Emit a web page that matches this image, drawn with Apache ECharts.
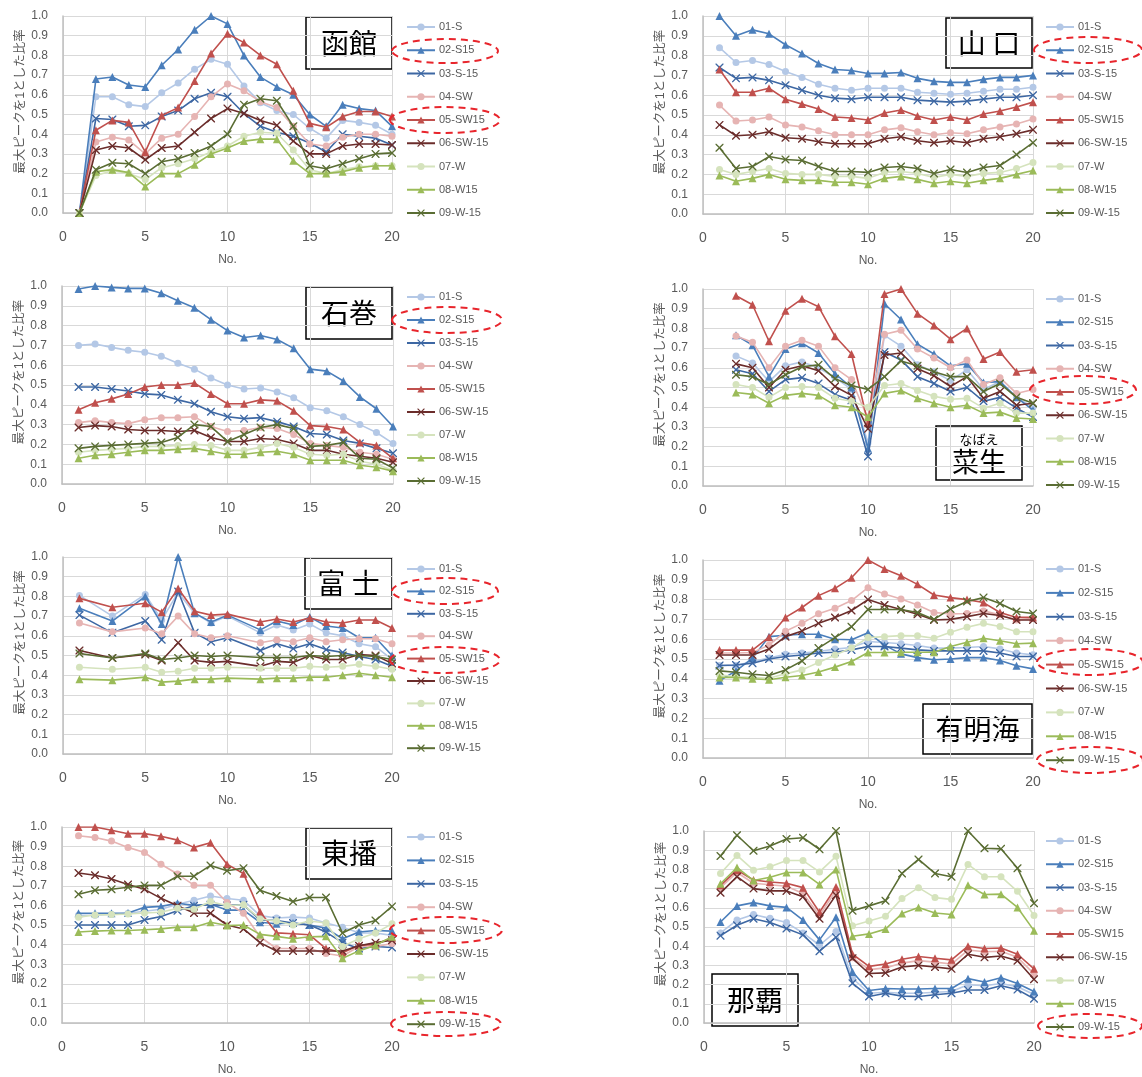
<!DOCTYPE html>
<html><head><meta charset="utf-8">
<script src="https://cdn.jsdelivr.net/npm/echarts@6/dist/echarts.min.js"></script>
<style>html,body{margin:0;padding:0;background:#fff}#c{width:1142px;height:1077px}</style>
</head><body><div id="c"></div>
<script>
// ---------------- DATA ----------------
const seriesNames = ['01-S','02-S15','03-S-15','04-SW','05-SW15','06-SW-15','07-W','08-W15','09-W-15'];
const xNo = [1,2,3,4,5,6,7,8,9,10,11,12,13,14,15,16,17,18,19,20];
const yAxisTitle = '最大ピークを1とした比率';
const xAxisTitle = 'No.';
const placeNames = ['函館','山 口','石巻','菜生','富 士','有明海','東播','那覇'];
const nabaeRuby = 'なばえ';

const hakodate = [
  [0,0.59,0.59,0.55,0.54,0.61,0.66,0.73,0.78,0.755,0.645,0.56,0.52,0.50,0.43,0.38,0.47,0.46,0.445,0.40],
  [0,0.68,0.69,0.65,0.64,0.75,0.83,0.93,1.0,0.96,0.80,0.69,0.64,0.60,0.50,0.44,0.55,0.53,0.52,0.44],
  [0,0.48,0.475,0.44,0.445,0.49,0.52,0.58,0.61,0.59,0.505,0.44,0.41,0.39,0.355,0.31,0.40,0.39,0.38,0.345],
  [0,0.36,0.385,0.37,0.30,0.38,0.40,0.49,0.59,0.655,0.62,0.565,0.535,0.44,0.35,0.34,0.385,0.40,0.40,0.39],
  [0,0.42,0.47,0.46,0.31,0.495,0.535,0.67,0.81,0.91,0.865,0.80,0.755,0.62,0.455,0.435,0.49,0.515,0.515,0.49],
  [0,0.32,0.34,0.33,0.27,0.33,0.34,0.41,0.48,0.53,0.505,0.47,0.445,0.365,0.30,0.30,0.34,0.35,0.35,0.345],
  [0,0.19,0.215,0.20,0.17,0.23,0.25,0.275,0.31,0.34,0.39,0.41,0.405,0.32,0.22,0.20,0.22,0.235,0.24,0.24],
  [0,0.21,0.22,0.205,0.135,0.20,0.20,0.245,0.30,0.33,0.365,0.375,0.375,0.265,0.20,0.20,0.21,0.23,0.24,0.24],
  [0,0.22,0.255,0.25,0.20,0.26,0.275,0.305,0.34,0.40,0.55,0.58,0.57,0.44,0.24,0.225,0.25,0.275,0.30,0.305]
];
const yamaguchi = [
  [0.84,0.765,0.775,0.755,0.72,0.69,0.655,0.635,0.625,0.635,0.635,0.635,0.615,0.61,0.605,0.61,0.62,0.63,0.63,0.64],
  [1.0,0.90,0.93,0.91,0.855,0.81,0.76,0.73,0.725,0.71,0.71,0.715,0.685,0.67,0.665,0.665,0.68,0.69,0.69,0.70],
  [0.74,0.685,0.69,0.675,0.65,0.625,0.60,0.585,0.58,0.59,0.59,0.59,0.575,0.57,0.565,0.57,0.58,0.59,0.59,0.60],
  [0.55,0.47,0.475,0.49,0.45,0.44,0.42,0.40,0.40,0.40,0.425,0.435,0.415,0.40,0.41,0.405,0.425,0.44,0.455,0.48],
  [0.73,0.615,0.615,0.635,0.58,0.555,0.53,0.49,0.485,0.475,0.51,0.525,0.495,0.475,0.49,0.475,0.505,0.52,0.54,0.565],
  [0.45,0.395,0.40,0.415,0.385,0.38,0.365,0.355,0.355,0.355,0.38,0.39,0.37,0.36,0.37,0.36,0.38,0.39,0.405,0.425],
  [0.225,0.20,0.215,0.23,0.205,0.20,0.20,0.19,0.19,0.18,0.21,0.215,0.205,0.185,0.20,0.19,0.205,0.21,0.23,0.26],
  [0.195,0.165,0.18,0.20,0.175,0.17,0.17,0.16,0.16,0.15,0.18,0.19,0.175,0.155,0.165,0.155,0.17,0.18,0.20,0.22],
  [0.335,0.23,0.24,0.29,0.275,0.27,0.24,0.215,0.215,0.21,0.235,0.24,0.23,0.205,0.225,0.21,0.235,0.245,0.30,0.36]
];
const ishinomaki = [
  [0.70,0.707,0.69,0.675,0.665,0.645,0.61,0.58,0.535,0.50,0.48,0.485,0.465,0.435,0.385,0.37,0.34,0.30,0.26,0.205],
  [0.985,1.0,0.993,0.988,0.988,0.963,0.925,0.89,0.83,0.775,0.74,0.75,0.73,0.685,0.58,0.57,0.52,0.44,0.38,0.29],
  [0.49,0.49,0.48,0.47,0.455,0.45,0.425,0.405,0.365,0.34,0.33,0.335,0.315,0.29,0.255,0.25,0.22,0.205,0.18,0.155],
  [0.31,0.32,0.31,0.305,0.325,0.335,0.335,0.34,0.29,0.265,0.27,0.285,0.28,0.25,0.205,0.195,0.185,0.16,0.15,0.125],
  [0.375,0.41,0.43,0.455,0.49,0.50,0.50,0.51,0.455,0.405,0.405,0.425,0.42,0.37,0.295,0.29,0.275,0.21,0.195,0.13],
  [0.285,0.295,0.29,0.275,0.27,0.27,0.265,0.27,0.235,0.215,0.215,0.23,0.225,0.205,0.17,0.17,0.15,0.14,0.13,0.11],
  [0.16,0.17,0.175,0.18,0.19,0.19,0.195,0.20,0.195,0.17,0.17,0.185,0.205,0.185,0.15,0.145,0.15,0.115,0.10,0.07],
  [0.13,0.145,0.15,0.16,0.17,0.17,0.175,0.18,0.165,0.15,0.15,0.16,0.165,0.15,0.12,0.12,0.12,0.095,0.085,0.065],
  [0.18,0.19,0.195,0.20,0.205,0.21,0.235,0.30,0.29,0.215,0.25,0.285,0.30,0.28,0.19,0.195,0.21,0.13,0.125,0.08]
];
const nabae = [
  [null,0.66,0.625,0.53,0.61,0.63,0.60,0.55,0.49,0.22,0.765,0.71,0.615,0.58,0.535,0.59,0.49,0.53,0.45,0.40],
  [null,0.765,0.715,0.555,0.695,0.725,0.675,0.57,0.50,0.19,0.925,0.845,0.72,0.67,0.61,0.62,0.525,0.53,0.45,0.385],
  [null,0.59,0.57,0.48,0.54,0.55,0.52,0.465,0.435,0.15,0.68,0.64,0.555,0.52,0.48,0.50,0.43,0.45,0.395,0.35],
  [null,0.762,0.73,0.60,0.71,0.74,0.71,0.60,0.54,0.34,0.77,0.79,0.695,0.65,0.60,0.64,0.515,0.55,0.47,0.49],
  [null,0.966,0.92,0.735,0.89,0.95,0.91,0.76,0.67,0.32,0.975,1.0,0.875,0.815,0.745,0.80,0.645,0.68,0.58,0.59],
  [null,0.62,0.60,0.50,0.59,0.61,0.585,0.505,0.46,0.29,0.665,0.675,0.595,0.56,0.505,0.555,0.445,0.48,0.41,0.42],
  [null,0.515,0.50,0.45,0.50,0.505,0.50,0.445,0.43,0.40,0.51,0.52,0.485,0.455,0.44,0.445,0.395,0.42,0.37,0.37],
  [null,0.475,0.465,0.42,0.46,0.47,0.46,0.41,0.40,0.35,0.47,0.485,0.445,0.42,0.40,0.41,0.37,0.375,0.345,0.34],
  [null,0.565,0.555,0.515,0.565,0.605,0.615,0.545,0.51,0.49,0.555,0.635,0.61,0.58,0.555,0.555,0.48,0.52,0.45,0.42]
];
const fuji = [
  [0.805,null,0.70,null,0.81,0.68,0.82,0.715,0.665,0.70,null,0.615,0.655,0.63,0.66,0.615,0.60,0.56,0.545,0.48],
  [0.74,null,0.675,null,0.80,0.66,1.0,0.715,0.67,0.705,null,0.63,0.675,0.655,0.695,0.65,0.64,0.59,0.59,0.50],
  [0.705,null,0.615,null,0.675,0.58,0.825,0.615,0.57,0.59,null,0.525,0.56,0.535,0.56,0.53,0.515,0.495,0.48,0.445],
  [0.665,null,0.62,null,0.64,0.61,0.70,0.61,0.59,0.60,null,0.565,0.58,0.57,0.59,0.57,0.58,0.585,0.585,0.56],
  [0.79,null,0.745,null,0.765,0.72,0.84,0.725,0.705,0.71,null,0.67,0.685,0.67,0.69,0.67,0.665,0.68,0.68,0.64],
  [0.525,null,0.487,null,0.505,0.475,0.565,0.475,0.465,0.47,null,0.445,0.47,0.465,0.50,0.48,0.48,0.505,0.50,0.46],
  [0.44,null,0.43,null,0.44,0.415,0.42,0.435,0.435,0.44,null,0.435,0.435,0.435,0.445,0.44,0.445,0.455,0.445,0.43],
  [0.38,null,0.375,null,0.39,0.365,0.37,0.38,0.38,0.385,null,0.38,0.385,0.385,0.39,0.39,0.40,0.41,0.40,0.39],
  [0.51,null,0.487,null,0.51,0.48,0.487,0.50,0.495,0.50,null,0.49,0.49,0.49,0.50,0.495,0.50,0.50,0.495,0.48]
];
const ariake = [
  [0.467,0.467,0.487,0.505,0.524,0.53,0.538,0.55,0.558,0.588,0.583,0.577,0.568,0.555,0.555,0.558,0.563,0.551,0.53,0.521],
  [0.39,0.44,0.505,0.613,0.62,0.625,0.625,0.60,0.597,0.633,0.57,0.526,0.507,0.496,0.50,0.507,0.507,0.492,0.466,0.45],
  [0.467,0.47,0.479,0.50,0.513,0.52,0.53,0.534,0.546,0.563,0.563,0.555,0.546,0.541,0.541,0.541,0.541,0.53,0.513,0.513],
  [0.53,0.53,0.533,0.57,0.64,0.68,0.728,0.756,0.795,0.86,0.828,0.803,0.773,0.735,0.728,0.73,0.743,0.723,0.697,0.705],
  [0.545,0.545,0.545,0.61,0.71,0.76,0.82,0.857,0.91,1.0,0.955,0.92,0.877,0.823,0.81,0.80,0.785,0.735,0.71,0.71],
  [0.52,0.52,0.52,0.55,0.613,0.642,0.68,0.71,0.745,0.80,0.773,0.75,0.726,0.697,0.70,0.714,0.73,0.72,0.697,0.697],
  [0.42,0.41,0.407,0.403,0.425,0.445,0.482,0.52,0.555,0.608,0.613,0.618,0.617,0.605,0.635,0.66,0.68,0.664,0.638,0.638],
  [0.407,0.407,0.40,0.395,0.408,0.417,0.434,0.459,0.487,0.533,0.533,0.534,0.534,0.534,0.563,0.585,0.605,0.592,0.577,0.58],
  [0.44,0.433,0.423,0.417,0.445,0.49,0.555,0.608,0.663,0.75,0.75,0.75,0.735,0.70,0.753,0.79,0.81,0.78,0.74,0.73]
];
const higashiharima = [
  [0.55,0.55,0.555,0.56,0.57,0.58,0.606,0.626,0.648,0.635,0.626,0.548,0.536,0.54,0.536,0.51,0.489,0.46,0.459,0.447],
  [0.56,0.56,0.56,0.561,0.59,0.595,0.611,0.60,0.606,0.576,0.576,0.514,0.506,0.51,0.50,0.484,0.43,0.464,0.472,0.469],
  [0.50,0.50,0.50,0.50,0.526,0.543,0.573,0.598,0.603,0.60,0.603,0.526,0.523,0.51,0.50,0.464,0.41,0.38,0.39,0.385],
  [0.955,0.946,0.928,0.896,0.87,0.81,0.76,0.703,0.703,0.615,0.56,0.44,0.38,0.38,0.38,0.355,0.342,0.39,0.39,0.405],
  [1.0,1.0,0.983,0.966,0.966,0.953,0.933,0.896,0.92,0.81,0.762,0.568,0.46,0.455,0.45,0.38,0.358,0.397,0.40,0.435],
  [0.765,0.754,0.735,0.707,0.682,0.636,0.598,0.561,0.56,0.50,0.48,0.41,0.367,0.367,0.367,0.367,0.367,0.394,0.41,0.422],
  [0.54,0.551,0.553,0.556,0.561,0.565,0.585,0.58,0.62,0.598,0.603,0.531,0.52,0.50,0.52,0.51,0.39,0.43,0.459,0.506],
  [0.464,0.469,0.472,0.472,0.476,0.48,0.489,0.489,0.514,0.497,0.50,0.452,0.442,0.43,0.44,0.442,0.33,0.368,0.397,0.44],
  [0.657,0.677,0.682,0.693,0.702,0.702,0.749,0.749,0.804,0.777,0.79,0.677,0.648,0.62,0.64,0.64,0.459,0.50,0.523,0.595]
];
const naha = [
  [0.469,0.536,0.565,0.545,0.523,0.469,0.405,0.477,0.233,0.155,0.16,0.155,0.155,0.16,0.164,0.199,0.194,0.206,0.189,0.148],
  [0.526,0.61,0.627,0.61,0.602,0.536,0.433,0.551,0.266,0.169,0.18,0.177,0.177,0.18,0.18,0.231,0.214,0.236,0.206,0.164],
  [0.455,0.509,0.543,0.523,0.492,0.459,0.374,0.447,0.207,0.138,0.155,0.14,0.138,0.147,0.155,0.172,0.172,0.194,0.174,0.126],
  [0.705,0.784,0.728,0.72,0.712,0.675,0.56,0.69,0.34,0.278,0.287,0.312,0.325,0.317,0.307,0.38,0.371,0.374,0.342,0.256],
  [0.717,0.796,0.745,0.734,0.728,0.705,0.577,0.708,0.358,0.295,0.307,0.332,0.346,0.337,0.329,0.40,0.388,0.391,0.358,0.282],
  [0.678,0.762,0.70,0.688,0.688,0.658,0.543,0.666,0.337,0.258,0.261,0.292,0.30,0.292,0.282,0.358,0.342,0.349,0.324,0.228],
  [0.779,0.873,0.796,0.814,0.846,0.846,0.787,0.868,0.506,0.531,0.556,0.649,0.705,0.653,0.644,0.826,0.762,0.762,0.686,0.56],
  [0.725,0.81,0.742,0.759,0.784,0.784,0.722,0.80,0.452,0.464,0.489,0.57,0.602,0.573,0.565,0.717,0.669,0.671,0.602,0.481],
  [0.87,0.978,0.897,0.922,0.958,0.965,0.905,1.0,0.585,0.61,0.637,0.779,0.852,0.779,0.762,1.0,0.91,0.907,0.806,0.624]
];
const panelData = [hakodate, yamaguchi, ishinomaki, nabae, fuji, ariake, higashiharima, naha];

// ---------------- STYLE / LAYOUT ----------------
const COLORS = ['#b4c8e6','#4a7ebb','#3d67a3','#e6b4b3','#c0504d','#6b2d2b','#d5e3bd','#9bbb59','#5a6d33'];
const XMARK = 'path://M0,0L1.2,0L5,3.8L8.8,0L10,0L10,1.2L6.2,5L10,8.8L10,10L8.8,10L5,6.2L1.2,10L0,10L0,8.8L3.8,5L0,1.2Z';
const SYMBOLS = ['circle','triangle',XMARK,'circle','triangle',XMARK,'circle','triangle',XMARK];
const SYMSIZE = [7,8,8,7,8,8,7,8,8];

const layouts = [
  {grid:[63,16,329,197],  legend:[406,20,9.25],  box:[306,17,86,52],  ell:[[445,51,53,12],[445,120,55,13]]},
  {grid:[703,16,330,198], legend:[1045,20,9.25], box:[946,18,86,50],  ell:[[1088,50,54,13]]},
  {grid:[62,286,331,198], legend:[406,290,9.0],  box:[306,287,86,52], ell:[[447,320,55,13]]},
  {grid:[703,289,330,197],legend:[1045,292,9.25],box:[936,426,86,54], ell:[[1083,390,53,14]], ruby:true},
  {grid:[63,557,329,197], legend:[406,562,8.4],  box:[305,558,87,51], ell:[[445,591,53,13],[445,660,55,13]]},
  {grid:[703,560,330,198],legend:[1045,562,9.9], box:[923,704,109,50],ell:[[1090,662,53,13],[1090,760,53,13]]},
  {grid:[62,827,330,199], legend:[406,830,9.4],  box:[306,828,86,51], ell:[[446,930,56,13],[446,1024,55,12]]},
  {grid:[704,831,330,197],legend:[1045,834,9.25],box:[712,974,86,52], ell:[[1090,1026,52,12]]}
];

const GRAY = '#595959';
const grids = [], xAxes = [], yAxes = [], series = [], legends = [], graphics = [];

layouts.forEach((L, p) => {
  grids.push({left:L.grid[0], top:L.grid[1], width:L.grid[2], height:L.grid[3], containLabel:false});
  xAxes.push({
    gridIndex:p, type:'value', min:0, max:20, interval:5,
    name:xAxisTitle, nameLocation:'middle', nameGap:41,
    nameTextStyle:{fontSize:12, color:GRAY},
    axisLine:{show:true, onZero:false, lineStyle:{color:'#bfbfbf', width:1.5}},
    axisTick:{show:false},
    axisLabel:{fontSize:14, color:GRAY, margin:17},
    splitLine:{show:true, lineStyle:{color:'#d9d9d9', width:1}}
  });
  yAxes.push({
    gridIndex:p, type:'value', min:0, max:1, interval:0.1,
    name:yAxisTitle, nameLocation:'middle', nameGap:36,
    nameTextStyle:{fontSize:12.5, color:GRAY, padding:[0,0,0,26]},
    axisLine:{show:true, lineStyle:{color:'#bfbfbf', width:1.5}},
    axisTick:{show:false},
    axisLabel:{fontSize:12, color:GRAY, margin:15, formatter:v => v.toFixed(1)},
    splitLine:{show:true, lineStyle:{color:'#d9d9d9', width:1}}
  });
  panelData[p].forEach((vals, s) => {
    series.push({
      type:'line', name:seriesNames[s], xAxisIndex:p, yAxisIndex:p,
      data: xNo.map((x, i) => [x, vals[i]]).filter(d => d[1] !== null),
      symbol:SYMBOLS[s], symbolSize:SYMSIZE[s], showSymbol:true,
      lineStyle:{color:COLORS[s], width:1.6},
      itemStyle:{color:COLORS[s], borderWidth:0},
      connectNulls:true, animation:false, silent:true,
      emphasis:{disabled:true}, z:2 + s
    });
  });
  legends.push({
    data:seriesNames, orient:'vertical', left:L.legend[0], top:L.legend[1],
    itemGap:L.legend[2], itemWidth:28, itemHeight:9, padding:0,
    selectedMode:false,
    textStyle:{fontSize:11, color:GRAY, lineHeight:14, padding:[0,0,0,-1]}
  });
  const b = L.box;
  const children = [
    {type:'rect', shape:{x:b[0], y:b[1], width:b[2], height:b[3]}, style:{fill:'#fff', stroke:'#000', lineWidth:1.5}}
  ];
  if (L.ruby) {
    children.push({type:'text', style:{text:nabaeRuby, x:b[0]+b[2]/2, y:b[1]+13, align:'center', verticalAlign:'middle', textAlign:'center', textVerticalAlign:'middle', font:'13px "Noto Sans CJK JP"', fill:'#000'}});
    children.push({type:'text', style:{text:placeNames[p], x:b[0]+b[2]/2, y:b[1]+36, align:'center', verticalAlign:'middle', textAlign:'center', textVerticalAlign:'middle', font:'27px "Noto Sans CJK JP"', fill:'#000'}});
  } else {
    children.push({type:'text', style:{text:placeNames[p], x:b[0]+b[2]/2, y:b[1]+b[3]/2, align:'center', verticalAlign:'middle', textAlign:'center', textVerticalAlign:'middle', font:'28px "Noto Sans CJK JP"', fill:'#000'}});
  }
  graphics.push({type:'group', z:50, children});
  L.ell.forEach(e => {
    graphics.push({type:'ellipse', z:60, shape:{cx:e[0], cy:e[1], rx:e[2], ry:e[3]},
      style:{fill:'none', stroke:'#e8252c', lineWidth:2, lineDash:[7,5]}});
  });
});

const chart = echarts.init(document.getElementById('c'), null, {renderer:'canvas'});
chart.setOption({
  animation:false,
  backgroundColor:'#ffffff',
  textStyle:{fontFamily:'"Liberation Sans", "Noto Sans CJK JP", sans-serif'},
  grid:grids, xAxis:xAxes, yAxis:yAxes, legend:legends, series:series, graphic:graphics
});
</script>
</body></html>
